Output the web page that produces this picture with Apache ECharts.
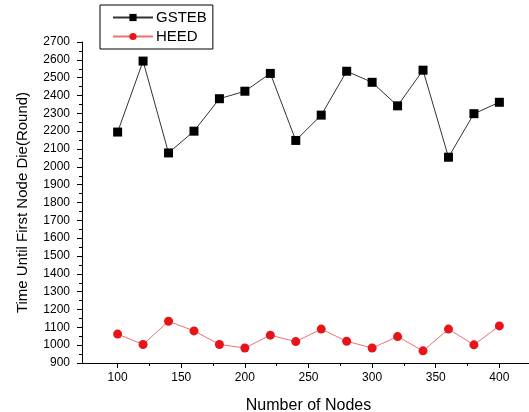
<!DOCTYPE html>
<html>
<head>
<meta charset="utf-8">
<script src="https://cdn.jsdelivr.net/npm/echarts@6/dist/echarts.min.js"></script>
<style>html,body{margin:0;padding:0;background:#fff;}#c{width:529px;height:412px;}</style>
</head>
<body>
<div id="c"></div>
<script>
const nodes = [100,120,140,160,180,200,220,240,260,280,300,320,340,360,380,400];
const gsteb = [2195,2593,2078,2200,2382,2424,2524,2148,2290,2536,2474,2342,2542,2054,2298,2362];
const heed  = [1062,1004,1134,1080,1004,984,1056,1020,1090,1022,984,1048,968,1090,1002,1108];
const xLabelValues = [100,150,200,250,300,350,400];
const xMinorTicks = [125,175,225,275,325,375];

const chart = echarts.init(document.getElementById('c'), null, {renderer:'canvas'});
const font = 'Liberation Sans, Arial, sans-serif';
chart.setOption({
  animation:false,
  backgroundColor:'#fff',
  grid:{left:82, right:-6, top:42, bottom:49, containLabel:false, outerBoundsMode:'none'},
  legend:{
    orient:'vertical', left:100, top:5,
    borderColor:'#000', borderWidth:1, padding:[5,6,5,12],
    itemGap:4, itemWidth:40, itemHeight:9,
    textStyle:{fontFamily:font, fontSize:15, color:'#000', padding:[0,0,0,-2]},
    data:['GSTEB','HEED']
  },
  xAxis:[{
    type:'value', min:72, max:428,
    name:'Number of Nodes', nameLocation:'middle', nameGap:35,
    nameTextStyle:{fontFamily:font, fontSize:16, color:'#000'},
    axisLine:{show:true, lineStyle:{color:'#000', width:1}},
    axisTick:{show:true, length:5, lineStyle:{color:'#000'}, customValues:xLabelValues},
    axisLabel:{fontFamily:font, fontSize:12, color:'#000', margin:9, customValues:xLabelValues},
    splitLine:{show:false}
  },{
    type:'value', min:72, max:428, position:'bottom',
    axisLine:{show:false},
    axisTick:{show:true, length:3, lineStyle:{color:'#000'}, customValues:xMinorTicks},
    axisLabel:{show:false},
    splitLine:{show:false}
  }],
  yAxis:{
    type:'value', min:900, max:2700, interval:100,
    name:'Time Until First Node Die(Round)', nameLocation:'middle', nameGap:52,
    nameTextStyle:{fontFamily:font, fontSize:15, color:'#000'},
    axisLine:{show:true, lineStyle:{color:'#000', width:1}},
    axisTick:{show:true, length:5, lineStyle:{color:'#000'}},
    minorTick:{show:true, splitNumber:2, length:3, lineStyle:{color:'#000'}},
    axisLabel:{fontFamily:font, fontSize:12, color:'#000', margin:12, formatter:v=>String(v)},
    splitLine:{show:false}
  },
  series:[{
    name:'GSTEB', type:'line',
    data:nodes.map((n,i)=>[n,gsteb[i]]),
    symbol:'rect', symbolSize:9,
    itemStyle:{color:'#000'},
    lineStyle:{color:'#333', width:1}
  },{
    name:'HEED', type:'line',
    data:nodes.map((n,i)=>[n,heed[i]]),
    symbol:'circle', symbolSize:9,
    itemStyle:{color:'#e8141a'},
    lineStyle:{color:'#f07070', width:1}
  }]
});
</script>
</body>
</html>
